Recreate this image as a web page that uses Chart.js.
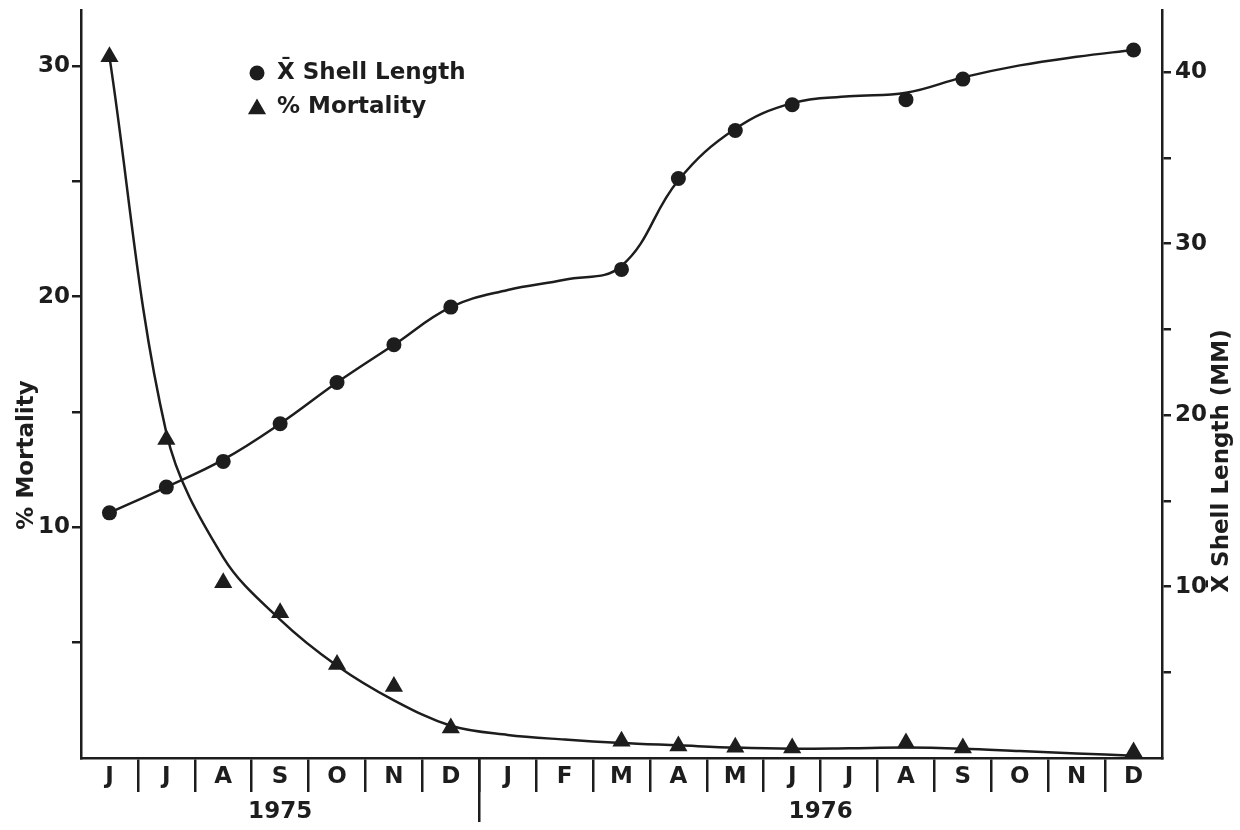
<!DOCTYPE html>
<html>
<head>
<meta charset="utf-8">
<title>Shell length and mortality</title>
<script src="https://cdn.jsdelivr.net/npm/chart.js@4.4.1/dist/chart.umd.min.js"></script>
<style>
  html, body { margin: 0; padding: 0; background: #fff; }
  #wrap { width: 1240px; height: 830px; position: relative; }
</style>
</head>
<body>
<div id="wrap"><canvas id="chart" width="1240" height="830"></canvas></div>
<script>
// months sampled, June 1975 -> December 1976
const months = ['J', 'J', 'A', 'S', 'O', 'N', 'D', 'J', 'F', 'M', 'A', 'M', 'J', 'J', 'A', 'S', 'O', 'N', 'D'];
const years = ['1975', '1976'];
const yearFirstMonth = [0, 7];

// mean shell length (mm), null where no sample was taken
const shellLength = [14.3, 15.8, 17.3, 19.5, 21.9, 24.1, 26.3, null, null, 28.5, 33.8, 36.6, 38.1, null, 38.4, 39.6, null, null, 41.3];
// hand-fitted curve through the shell points
const shellCurve = [14.3, 15.8, 17.4, 19.5, 21.9, 24.1, 26.3, 27.3, 27.9, 28.7, 33.7, 36.7, 38.2, 38.6, 38.8, 39.7, 40.4, 40.9, 41.3];

// % mortality
const mortality = [30.4, 13.8, 7.6, 6.3, 4.05, 3.1, 1.3, null, null, 0.73, 0.52, 0.47, 0.43, null, 0.65, 0.43, null, null, 0.26];
// hand-fitted curve through the mortality points
const mortalityCurve = [30.4, 14.1, 8.7, 6.0, 4.0, 2.5, 1.4, 1.0, 0.8, 0.65, 0.55, 0.45, 0.4, 0.42, 0.45, 0.4, 0.3, 0.2, 0.1];

const leftTicks = [5, 10, 15, 20, 25, 30];
const rightTicks = [5, 10, 15, 20, 25, 30, 35, 40];

const ink = '#1d1d1d';
const family = '"DejaVu Sans", sans-serif';
const textFont = `bold 23px ${family}`;

// titles, legend, year labels and the year divider
const decorations = {
  id: 'decorations',
  afterDraw(chart) {
    const { ctx, chartArea, scales } = chart;
    const x = scales.x;
    ctx.save();
    ctx.fillStyle = ink;
    ctx.strokeStyle = ink;
    ctx.lineWidth = 2.5;

    // years under the month row
    ctx.font = textFont;
    ctx.textAlign = 'center';
    ctx.textBaseline = 'middle';
    years.forEach((yr, i) => {
      const first = yearFirstMonth[i];
      const last = i + 1 < years.length ? yearFirstMonth[i + 1] - 1 : months.length - 1;
      if (i > 0) {
        const dx = x.getPixelForValue(first - 0.5);
        ctx.beginPath();
        ctx.moveTo(dx, chartArea.bottom);
        ctx.lineTo(dx, chartArea.bottom + 64);
        ctx.stroke();
      }
      const mid = x.getPixelForValue((first + last) / 2);
      ctx.fillText(yr, mid, chartArea.bottom + 54);
    });

    // axis titles, both read bottom to top
    ctx.save();
    ctx.translate(27, 455);
    ctx.rotate(-Math.PI / 2);
    ctx.fillText('% Mortality', 0, 0);
    ctx.restore();
    ctx.save();
    ctx.translate(1222, 461);
    ctx.rotate(-Math.PI / 2);
    ctx.fillText('X\u0304 Shell Length (MM)', 0, 0);
    ctx.restore();

    // legend from the marker datasets
    const rows = chart.data.datasets.filter(d => d.showLine === false);
    ctx.textAlign = 'left';
    rows.forEach((d, i) => {
      const y = 73 + i * 34;
      Chart.helpers.drawPoint(ctx, {
        pointStyle: d.pointStyle, radius: d.pointRadius, rotation: 0, borderWidth: 0
      }, 257, y + (d.pointStyle === 'triangle' ? 2 : 0));
      ctx.fillText(d.label, 277, y);
    });
    ctx.restore();
  }
};

const axisFont = { family, size: 23, weight: 'bold' };

new Chart(document.getElementById('chart'), {
  type: 'line',
  data: {
    labels: months,
    datasets: [
      {
        label: 'shell curve', data: shellCurve, yAxisID: 'yR',
        borderColor: ink, borderWidth: 2.5, pointRadius: 0, tension: 0.4
      },
      {
        label: 'X\u0304 Shell Length', data: shellLength, yAxisID: 'yR', showLine: false,
        pointStyle: 'circle', pointRadius: 7.5, backgroundColor: ink, borderColor: ink, borderWidth: 0, clip: false
      },
      {
        label: 'mortality curve', data: mortalityCurve, yAxisID: 'yL',
        borderColor: ink, borderWidth: 2.5, pointRadius: 0, tension: 0.35
      },
      {
        label: '% Mortality', data: mortality, yAxisID: 'yL', showLine: false,
        pointStyle: 'triangle', pointRadius: 10.5, backgroundColor: ink, borderColor: ink, borderWidth: 0, clip: false
      }
    ]
  },
  options: {
    responsive: false,
    animation: false,
    events: [],
    layout: { padding: { top: 8, left: 0, right: 0, bottom: 0 } },
    plugins: { legend: { display: false }, tooltip: { enabled: false } },
    scales: {
      x: {
        type: 'category',
        offset: true,
        grid: {
          offset: true, drawOnChartArea: false, tickLength: 34, lineWidth: 2.5,
          // only the inner month dividers, not the two ends
          color: c => (c.type === 'tick' && c.index > 0) ? ink : 'rgba(0,0,0,0)'
        },
        border: { display: true, color: ink, width: 2.5 },
        ticks: { color: ink, font: axisFont, padding: -29, maxRotation: 0, autoSkip: false },
        afterFit: s => { s.height = 72; s.paddingLeft = 0; s.paddingRight = 0; }
      },
      yL: {
        position: 'left', min: 0, max: 32.4,
        afterBuildTicks: s => { s.ticks = leftTicks.map(v => ({ value: v })); },
        grid: { drawOnChartArea: false, tickLength: 9, lineWidth: 2.5, color: ink },
        border: { display: true, color: ink, width: 2.5 },
        ticks: { color: ink, font: axisFont, padding: 2, callback: v => (v % 10 === 0 ? String(v) : '') },
        afterFit: s => { s.width = 81; s.paddingTop = 0; s.paddingBottom = 0; }
      },
      yR: {
        position: 'right', min: 0, max: 43.6,
        afterBuildTicks: s => { s.ticks = rightTicks.map(v => ({ value: v })); },
        grid: { drawOnChartArea: false, tickLength: 9, lineWidth: 2.5, color: ink },
        border: { display: true, color: ink, width: 2.5 },
        ticks: { color: ink, font: axisFont, padding: 4, callback: v => (v % 10 === 0 ? String(v) : '') },
        afterFit: s => { s.width = 78; s.paddingTop = 0; s.paddingBottom = 0; }
      }
    }
  },
  plugins: [decorations]
});
</script>
</body>
</html>
